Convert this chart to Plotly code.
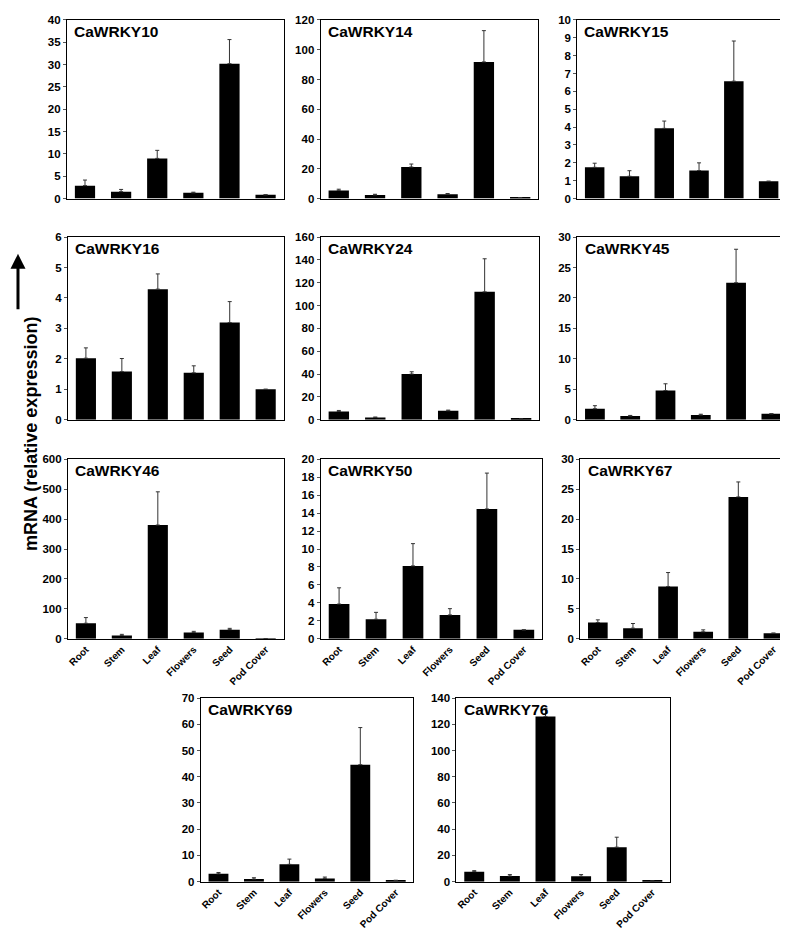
import plotly.graph_objects as go

W, H = 788, 931

tissues = ["Root", "Stem", "Leaf", "Flowers", "Seed", "Pod Cover"]

genes = ["CaWRKY10", "CaWRKY14", "CaWRKY15", "CaWRKY16", "CaWRKY24", "CaWRKY45",
         "CaWRKY46", "CaWRKY50", "CaWRKY67", "CaWRKY69", "CaWRKY76"]

wrky10 = [2.9, 1.55, 9.0, 1.28, 30.2, 0.85]
wrky10_err = [1.25, 0.5, 1.8, 0.15, 5.4, 0]
wrky14 = [5.5, 2.4, 21.2, 2.9, 91.8, 0.7]
wrky14_err = [0.8, 0.5, 2.0, 0.5, 21.0, 0]
wrky15 = [1.75, 1.25, 3.93, 1.57, 6.57, 0.97]
wrky15_err = [0.23, 0.31, 0.41, 0.43, 2.25, 0]
wrky16 = [2.02, 1.58, 4.29, 1.54, 3.19, 1.0]
wrky16_err = [0.34, 0.43, 0.5, 0.23, 0.69, 0]
wrky24 = [7.2, 2.0, 40.0, 7.8, 112.0, 0.6]
wrky24_err = [0.9, 0.3, 2.0, 0.6, 29.0, 0]
wrky45 = [1.8, 0.6, 4.8, 0.76, 22.5, 0.97]
wrky45_err = [0.5, 0.1, 1.1, 0.14, 5.5, 0]
wrky46 = [52.0, 11.0, 380.0, 21.0, 30.7, 1.0]
wrky46_err = [19.0, 4.0, 111.0, 4.0, 4.3, 0]
wrky50 = [3.87, 2.18, 8.12, 2.66, 14.46, 1.0]
wrky50_err = [1.81, 0.77, 2.48, 0.7, 3.99, 0]
wrky67 = [2.73, 1.78, 8.74, 1.17, 23.7, 0.95]
wrky67_err = [0.44, 0.78, 2.33, 0.33, 2.5, 0]
wrky69 = [3.0, 1.0, 6.6, 1.25, 44.6, 0.5]
wrky69_err = [0.5, 0.5, 2.0, 0.5, 14.15, 0]
wrky76 = [7.65, 4.3, 126.0, 4.1, 26.3, 0.5]
wrky76_err = [0.75, 1.1, 5.9, 1.3, 7.6, 0]

values = [wrky10, wrky14, wrky15, wrky16, wrky24, wrky45,
          wrky46, wrky50, wrky67, wrky69, wrky76]
errors = [wrky10_err, wrky14_err, wrky15_err, wrky16_err, wrky24_err, wrky45_err,
          wrky46_err, wrky50_err, wrky67_err, wrky69_err, wrky76_err]
y_max = [40, 120, 10, 6, 160, 30, 600, 20, 30, 70, 140]
y_step = [5, 20, 1, 1, 20, 5, 100, 2, 5, 10, 20]
show_xlabels = [False, False, False, False, False, False, True, True, True, True, True]

# panel boxes in pixels: (left, right, top, bottom)
boxes = [
    (58, 275, 6, 187), (312, 530, 6, 187), (569, 778, 6, 187),
    (59, 275, 226, 411), (312, 531, 226, 411), (569, 781, 226, 411),
    (59, 275, 451, 633), (312, 534, 451, 633), (572, 783, 451, 633),
    (192, 405, 693, 879), (448, 662, 693, 879),
]

FONT = "Liberation Sans, Arial, sans-serif"
fig = go.Figure()
layout = dict(
    width=W, height=H, margin=dict(l=0, r=0, t=0, b=0),
    paper_bgcolor="white", plot_bgcolor="white", showlegend=False,
    font=dict(family=FONT, color="black"),
    bargap=0.44,
)
annotations = []
for i, g in enumerate(genes):
    n = "" if i == 0 else str(i + 1)
    xa, ya = "x" + n, "y" + n
    l, r, t, b = boxes[i]
    fig.add_trace(go.Bar(
        x=tissues, y=values[i], xaxis=xa, yaxis=ya,
        marker=dict(color="black", line=dict(width=0)),
        error_y=dict(type="data", array=errors[i], arrayminus=[0] * 6,
                     symmetric=False, color="#333333", thickness=1, width=2),
    ))
    layout["xaxis" + n] = dict(
        domain=[l / W, r / W], anchor=ya, showline=True, mirror=True,
        linecolor="black", linewidth=1, ticks="", showgrid=False,
        showticklabels=show_xlabels[i], tickangle=-45,
        tickfont=dict(family=FONT, size=10, color="black", weight="bold"),
        range=[-0.5, 5.5],
    )
    layout["yaxis" + n] = dict(
        domain=[1 - b / H, 1 - t / H], anchor=xa, range=[0, y_max[i]],
        dtick=y_step[i], tick0=0, showline=True, mirror=True,
        linecolor="black", linewidth=1, ticks="outside", ticklen=3,
        tickcolor="#555555", showgrid=False, zeroline=False,
        tickfont=dict(family=FONT, size=11.5, color="black", weight="bold"),
    )
    annotations.append(dict(
        text="<b>" + g + "</b>", xref=xa + " domain", yref=ya + " domain",
        x=0.025, y=0.995, xanchor="left", yanchor="top", showarrow=False,
        font=dict(family=FONT, size=15.5, color="black"),
    ))

annotations.append(dict(
    text="<b>mRNA (relative expression)</b>", xref="paper", yref="paper",
    x=9.5 / W, y=1 - 425 / H, textangle=-90, showarrow=False,
    font=dict(family=FONT, size=18, color="black"),
))
annotations.append(dict(
    text="", xref="paper", yref="paper", axref="pixel", ayref="pixel",
    x=9 / W, y=1 - 243 / H, ax=0, ay=57,
    showarrow=True, arrowhead=2, arrowsize=1, arrowwidth=3, arrowcolor="black",
))
layout["annotations"] = annotations
fig.update_layout(**layout)
fig.write_html("out.html")
